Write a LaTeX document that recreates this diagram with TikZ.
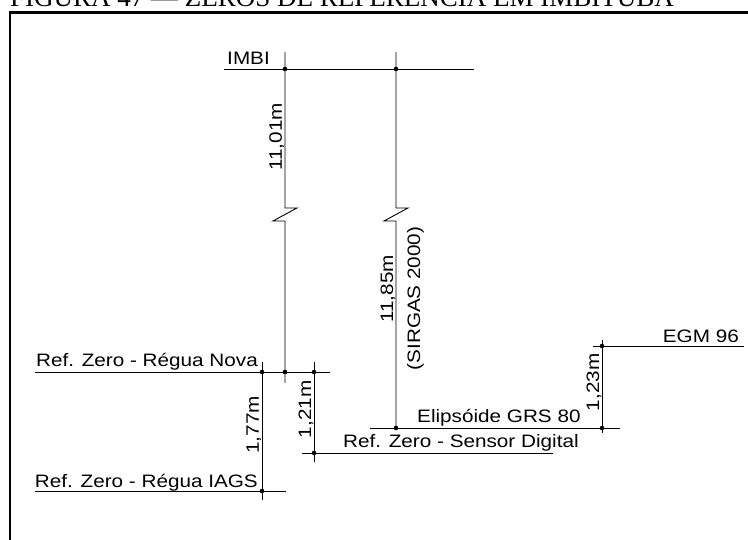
\documentclass[tikz,border=0pt]{standalone}
\usepackage{fontspec}
\setmainfont[FakeStretch=1.15]{Liberation Sans}
\newfontfamily\legendafont{Liberation Serif}

\begin{document}
\begin{tikzpicture}[
  x=1pt, y=1pt,
  nivel/.style={line width=0.9pt},
  ponto/.style={circle, fill=black, inner sep=0pt, minimum size=4.6pt},
  rotulo/.style={font=\fontsize{18}{21}\selectfont, inner sep=0pt},
  cota/.style={font=\fontsize{18}{21}\selectfont, rotate=90, inner sep=0.5pt}
]
  \useasboundingbox (0,0) rectangle (748,540);
  \clip (0,0) rectangle (748,540);

  % Legenda e moldura
  \node[font=\legendafont\fontsize{27}{30}\selectfont, anchor=base west, inner sep=0pt] (legenda) at (10,533.6)
    {FIGURA 47 — ZEROS DE REFERÊNCIA EM IMBITUBA};
  \draw[line width=2.4pt] (10,-5) -- (10,527.5) -- (760,527.5);

  % Níveis (linhas horizontais)
  \coordinate (imbiA) at (224,471);   \coordinate (imbiB) at (474,471);
  \coordinate (novaA) at (35,168);    \coordinate (novaB) at (330,168);
  \coordinate (iagsA) at (35,49);     \coordinate (iagsB) at (286,49);
  \coordinate (sensA) at (302,87);    \coordinate (sensB) at (553,87);
  \coordinate (elipA) at (370,112);   \coordinate (elipB) at (620,112);
  \coordinate (egmA) at (593,194);    \coordinate (egmB) at (744,194);
  \draw[nivel] (imbiA) -- (imbiB);
  \draw[nivel] (novaA) -- (novaB);
  \draw[nivel] (iagsA) -- (iagsB);
  \draw[nivel] (sensA) -- (sensB);
  \draw[nivel] (elipA) -- (elipB);
  \draw[nivel] (egmA) -- (egmB);

  \node[rotulo, anchor=base east] (imbi) at (270,475) {IMBI};
  \node[rotulo, anchor=base east] (nova) at (258,173.3) {Ref. Zero - Régua Nova};
  \node[rotulo, anchor=base east] (iags) at (258,52.3) {Ref. Zero - Régua IAGS};
  \node[rotulo, anchor=base west] (sensor) at (343,92) {Ref. Zero - Sensor Digital};
  \node[rotulo, anchor=base west] (elipsoide) at (417,117) {Elipsóide GRS 80};
  \node[rotulo, anchor=base east] (egm) at (739,197) {EGM 96};

  % Cotas verticais (com quebra nas duas longas)
  \coordinate (c1a) at (285,488);  \coordinate (c1b) at (285,157);
  \coordinate (c2a) at (396,488);  \coordinate (c2b) at (396,112);
  \coordinate (c3a) at (262,178);  \coordinate (c3b) at (262,40);
  \coordinate (c4a) at (314,178);  \coordinate (c4b) at (314,78);
  \coordinate (c5a) at (602,200);  \coordinate (c5b) at (602,107);
  \draw[nivel] (c1a) -- ++(0,-156) -- ++(12,0) -- ++(-24,-13) -- ++(12,0) -- (c1b);
  \draw[nivel] (c2a) -- ++(0,-156) -- ++(12,0) -- ++(-24,-13) -- ++(12,0) -- (c2b);
  \draw[nivel] (c3a) -- (c3b);
  \draw[nivel] (c4a) -- (c4b);
  \draw[nivel] (c5a) -- (c5b);

  \node[cota, anchor=south] (h1) at (285,403) {11,01m};
  \node[cota, anchor=south] (h2) at (396,251) {11,85m};
  \node[cota, anchor=north] (h2s) at (406.5,241.5) {(SIRGAS 2000)};
  \node[cota, anchor=south] (h3) at (262,115) {1,77m};
  \node[cota, anchor=south] (h4) at (314,130.5) {1,21m};
  \node[cota, anchor=south] (h5) at (602,157.5) {1,23m};

  % Pontos
  \node[ponto] (p1) at (285,471) {};
  \node[ponto] (p2) at (396,471) {};
  \node[ponto] (p3) at (262,168) {};
  \node[ponto] (p4) at (285,168) {};
  \node[ponto] (p5) at (314,168) {};
  \node[ponto] (p6) at (262,49) {};
  \node[ponto] (p7) at (314,87) {};
  \node[ponto] (p8) at (396,112) {};
  \node[ponto] (p9) at (602,112) {};
  \node[ponto] (p10) at (602,194) {};
\end{tikzpicture}
\end{document}
